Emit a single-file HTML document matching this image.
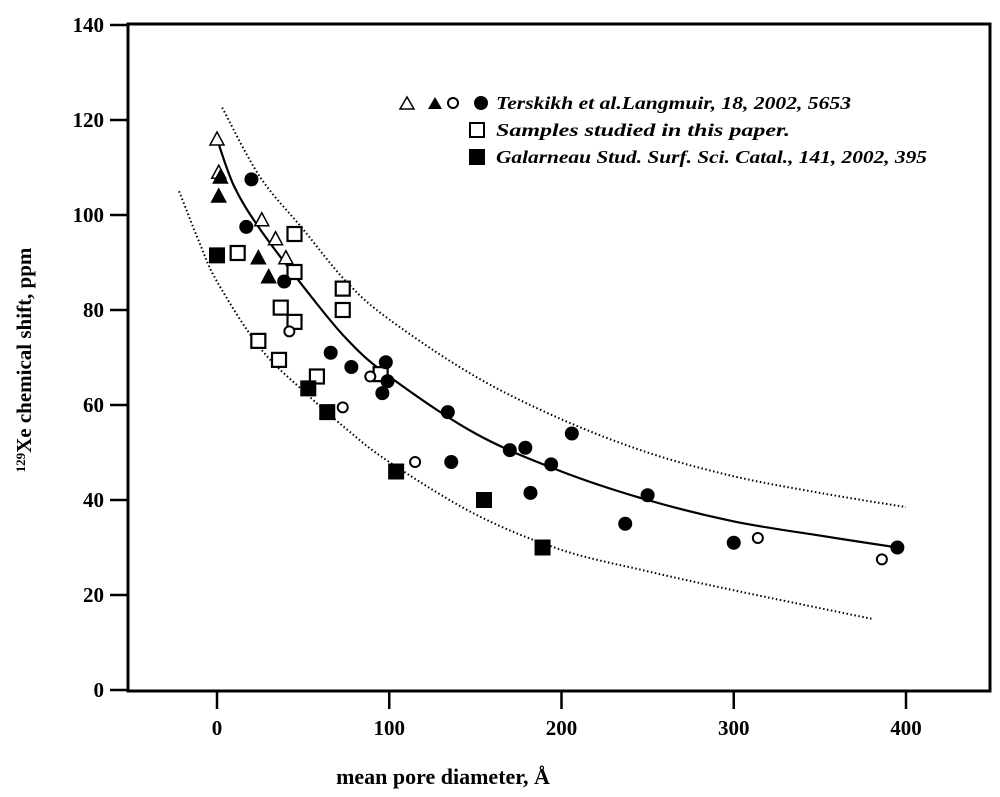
<!DOCTYPE html>
<html><head><meta charset="utf-8"><style>
body{margin:0;background:#fff}
svg text{font-family:"Liberation Serif",serif;font-weight:bold;fill:#000}
</style></head><body>
<svg width="1000" height="792" viewBox="0 0 1000 792">
<g id="axes"></g><g id="curves"></g><g id="marks"></g>
<g>
 <polygon points="400,109 407,97 414,109" fill="none" stroke="#000" stroke-width="1.5"/>
 <polygon points="428,109 435,97 442,109" fill="#000"/>
 <circle cx="453" cy="103" r="5" fill="none" stroke="#000" stroke-width="2"/>
 <circle cx="481" cy="103" r="7" fill="#000"/>
 <text x="496" y="109" font-size="18" font-style="italic" textLength="355" lengthAdjust="spacingAndGlyphs">Terskikh et al.Langmuir, 18, 2002, 5653</text>
 <rect x="470" y="123" width="14" height="14" fill="none" stroke="#000" stroke-width="2"/>
 <text x="496" y="136" font-size="18" font-style="italic" textLength="294" lengthAdjust="spacingAndGlyphs">Samples studied in this paper.</text>
 <rect x="469" y="149" width="16" height="16" fill="#000"/>
 <text x="496" y="163" font-size="18" font-style="italic" textLength="431" lengthAdjust="spacingAndGlyphs">Galarneau Stud. Surf. Sci. Catal., 141, 2002, 395</text>
</g>
<text x="443" y="784" font-size="22" text-anchor="middle">mean pore diameter, Å</text>
<text transform="translate(31,360) rotate(-90)" font-size="21" text-anchor="middle"><tspan font-size="13" dy="-6">129</tspan><tspan dy="6">Xe chemical shift, ppm</tspan></text>
</svg>
<script>
const xTicks=[0,100,200,300,400];
const yTicks=[0,20,40,60,80,100,120,140];
const openTriX=[0,1,26,34,40], openTriY=[116,109,99,95,91];
const fillTriX=[2,1,24,30], fillTriY=[108,104,91,87];
const openCircX=[42,73,89,115,314,386], openCircY=[75.5,59.5,66,48,32,27.5];
const fillCircX=[20,17,39,66,78,98,96,99,134,136,170,179,182,194,206,237,250,300,395];
const fillCircY=[107.5,97.5,86,71,68,69,62.5,65,58.5,48,50.5,51,41.5,47.5,54,35,41,31,30];
const openSqX=[12,24,36,37,45,45,45,73,73,58,95];
const openSqY=[92,73.5,69.5,80.5,96,88,77.5,84.5,80,66,66.5];
const fillSqX=[0,53,64,104,155,189], fillSqY=[91.5,63.5,58.5,46,40,30];
const fitX=[0,10,25,50,75,100,150,200,250,300,350,395];
const fitY=[116,106,97,85,74,66,54,46,40,35.5,32.5,30];
const upX=[3,25,50,75,100,150,200,250,300,350,400];
const upY=[122.6,108,97,86,78,66,57,50,45,41.5,38.5];
const loX=[-22,-10,0,25,50,75,100,150,200,250,300,380];
const loY=[105,94,86,72,63,55,48,37,29.5,25,21,15];
const NS="http://www.w3.org/2000/svg";
const X=v=>217+v*1.7225, Y=v=>690-v*4.75;
function mk(t,a,p){const e=document.createElementNS(NS,t);for(const k in a)e.setAttribute(k,a[k]);document.getElementById(p).appendChild(e);return e;}
let f=mk('rect',{x:128,y:24,width:862,height:667,fill:'none',stroke:'#000','stroke-width':3},'axes');


xTicks.forEach(v=>{let l=mk('line',{x1:X(v),x2:X(v),y1:691,y2:709,stroke:'#000','stroke-width':2.5},'axes');


let t=mk('text',{x:X(v),y:735,'font-size':21,'text-anchor':'middle'},'axes');t.textContent=v;

});
yTicks.forEach(v=>{let l=mk('line',{x1:110,x2:128,y1:Y(v),y2:Y(v),stroke:'#000','stroke-width':2.5},'axes');


let t=mk('text',{x:104,y:Y(v)+7,'font-size':21,'text-anchor':'end'},'axes');t.textContent=v;

});
function path(xs,ys){const p=xs.map((x,i)=>[X(x),Y(ys[i])]);let d='M'+p[0][0].toFixed(1)+','+p[0][1].toFixed(1);
for(let i=0;i<p.length-1;i++){const p0=p[Math.max(0,i-1)],p1=p[i],p2=p[i+1],p3=p[Math.min(p.length-1,i+2)];
const c1=[p1[0]+(p2[0]-p0[0])/6,p1[1]+(p2[1]-p0[1])/6],c2=[p2[0]-(p3[0]-p1[0])/6,p2[1]-(p3[1]-p1[1])/6];
d+=`C${c1[0].toFixed(1)},${c1[1].toFixed(1)} ${c2[0].toFixed(1)},${c2[1].toFixed(1)} ${p2[0].toFixed(1)},${p2[1].toFixed(1)}`;}
return d;}
let c=mk('path',{d:path(fitX,fitY),fill:'none',stroke:'#000','stroke-width':2.2},'curves');


let u=mk('path',{d:path(upX,upY),fill:'none',stroke:'#000','stroke-width':2,'stroke-dasharray':'1.5,2.5'},'curves');


let lo=mk('path',{d:path(loX,loY),fill:'none',stroke:'#000','stroke-width':2,'stroke-dasharray':'1.5,2.5'},'curves');


function tri(xs,ys,fill,name){xs.forEach((x,i)=>{const cx=X(x),cy=Y(ys[i]);
let e=mk('polygon',{points:`${cx-7},${cy+6} ${cx},${cy-7} ${cx+7},${cy+6}`,fill:fill?'#000':'#fff',stroke:'#000','stroke-width':1.5},'marks');

});}
function circ(xs,ys,fill,name){xs.forEach((x,i)=>{
let e=mk('circle',{cx:X(x),cy:Y(ys[i]),r:fill?7:5,fill:fill?'#000':'#fff',stroke:'#000','stroke-width':fill?0:2},'marks');

});}
function sq(xs,ys,fill,name){xs.forEach((x,i)=>{const s=fill?16:14;
let e=mk('rect',{x:X(x)-s/2,y:Y(ys[i])-s/2,width:s,height:s,fill:fill?'#000':'#fff',stroke:'#000','stroke-width':fill?0:2.2},'marks');

});}
sq(openSqX,openSqY,false,'sample-point');
sq(fillSqX,fillSqY,true,'galarneau-point');
circ(openCircX,openCircY,false,'terskikh-open-circle');
circ(fillCircX,fillCircY,true,'terskikh-filled-circle');
tri(openTriX,openTriY,false,'terskikh-open-triangle');
tri(fillTriX,fillTriY,true,'terskikh-filled-triangle');
</script>
</body></html>
